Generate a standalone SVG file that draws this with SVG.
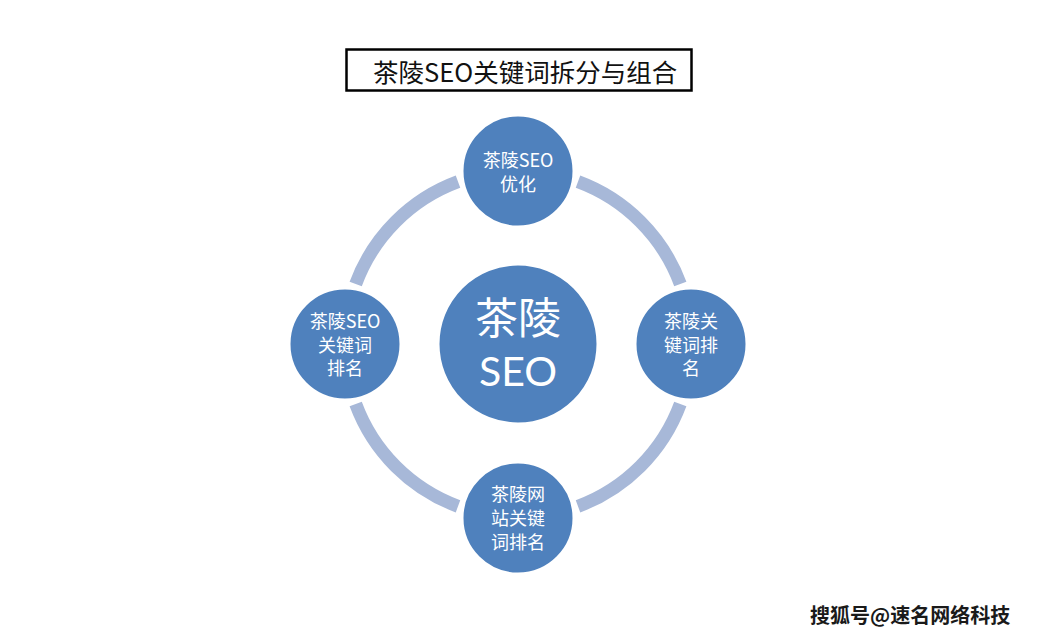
<svg xmlns="http://www.w3.org/2000/svg" width="1037" height="638" viewBox="0 0 1037 638">
<style>
.cjk{font-family:"Noto Sans CJK SC","Noto Sans",sans-serif;}
.node{fill:#4F81BD;stroke:#ffffff;stroke-width:3;}
.lbl{fill:#ffffff;font-size:18px;text-anchor:middle;dominant-baseline:central;}
.ring{fill:none;stroke:#A7B8D8;stroke-width:13;stroke-linecap:butt;}
</style>
<rect x="0" y="0" width="1037" height="638" fill="#ffffff"/>
<g id="title">
<rect x="346.5" y="49.5" width="345" height="41" fill="#ffffff" stroke="#000000" stroke-width="2.5"/>
<text class="cjk" x="373" y="70" font-size="25.5" fill="#111111" dominant-baseline="central">茶陵SEO关键词拆分与组合</text>
</g>
<g id="connectors">
<path class="ring" d="M578,181.7 A173,173 0 0 1 680.3,284"/>
<path class="ring" d="M680.3,404 A173,173 0 0 1 578,506.3"/>
<path class="ring" d="M458,506.3 A173,173 0 0 1 355.7,404"/>
<path class="ring" d="M355.7,284 A173,173 0 0 1 458,181.7"/>
</g>
<g id="center">
<circle class="node" cx="518" cy="344" r="80"/>
<text class="cjk" x="518" y="315" font-size="43" fill="#ffffff" text-anchor="middle" dominant-baseline="central">茶陵</text>
<text x="518" y="370" font-family="Lato,'Noto Sans',sans-serif" font-size="41" fill="#ffffff" text-anchor="middle" dominant-baseline="central">SEO</text>
</g>
<g id="node-top">
<circle class="node" cx="518" cy="171" r="56"/>
<text class="cjk lbl" x="518" y="159">茶陵SEO</text>
<text class="cjk lbl" x="518" y="183">优化</text>
</g>
<g id="node-right">
<circle class="node" cx="691" cy="344" r="56"/>
<text class="cjk lbl" x="691" y="320">茶陵关</text>
<text class="cjk lbl" x="691" y="343.5">键词排</text>
<text class="cjk lbl" x="691" y="367">名</text>
</g>
<g id="node-bottom">
<circle class="node" cx="518" cy="518" r="56"/>
<text class="cjk lbl" x="518" y="493">茶陵网</text>
<text class="cjk lbl" x="518" y="517">站关键</text>
<text class="cjk lbl" x="518" y="541">词排名</text>
</g>
<g id="node-left">
<circle class="node" cx="345" cy="344" r="56"/>
<text class="cjk lbl" x="345" y="320">茶陵SEO</text>
<text class="cjk lbl" x="345" y="343.5">关键词</text>
<text class="cjk lbl" x="345" y="367">排名</text>
</g>
<g id="watermark">
<text class="cjk" x="810" y="614" font-size="20" font-weight="bold" fill="#1a1a1a" stroke="#ffffff" stroke-width="2" paint-order="stroke" dominant-baseline="central">搜狐号@速名网络科技</text>
</g>
</svg>
